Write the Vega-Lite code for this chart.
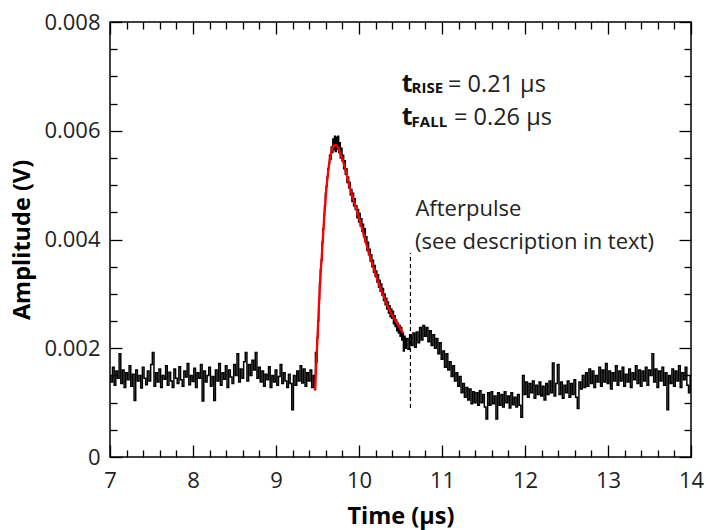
{
  "$schema": "https://vega.github.io/schema/vega-lite/v6.json",
  "width": 581,
  "height": 435,
  "autosize": {"type": "none"},
  "padding": {"left": 110, "top": 22, "right": 15, "bottom": 73},
  "background": "white",
  "config": {
    "view": {"stroke": "black", "strokeWidth": 1.5},
    "font": "Open Sans",
    "axis": {"grid": false, "domain": false, "tickColor": "black", "tickWidth": 1.3, "labelColor": "#222", "labelFont": "Open Sans", "labelFontSize": 22, "titleFont": "Open Sans", "titleFontSize": 23.5, "titleFontWeight": "bold", "titleColor": "black"}
  },
  "datasets": {
    "one": [{}],
    "sig": [
      {"t":7,"v":0.0015},{"t":7.02,"v":0.00138},{"t":7.04,"v":0.00165},{"t":7.06,"v":0.00132},{"t":7.08,"v":0.00158},{"t":7.1,"v":0.00145},{"t":7.12,"v":0.0019},{"t":7.14,"v":0.00135},{"t":7.16,"v":0.0016},{"t":7.18,"v":0.00128},
      {"t":7.2,"v":0.00155},{"t":7.22,"v":0.00142},{"t":7.24,"v":0.00168},{"t":7.26,"v":0.0013},{"t":7.28,"v":0.00152},{"t":7.3,"v":0.00104},{"t":7.32,"v":0.0016},{"t":7.34,"v":0.0014},{"t":7.36,"v":0.0015},{"t":7.38,"v":0.00127},
      {"t":7.4,"v":0.00165},{"t":7.42,"v":0.00145},{"t":7.44,"v":0.00133},{"t":7.46,"v":0.00158},{"t":7.48,"v":0.0014},{"t":7.5,"v":0.0017},{"t":7.52,"v":0.00192},{"t":7.54,"v":0.0013},{"t":7.56,"v":0.00155},{"t":7.58,"v":0.00138},
      {"t":7.6,"v":0.00162},{"t":7.62,"v":0.00128},{"t":7.64,"v":0.0015},{"t":7.66,"v":0.00143},{"t":7.68,"v":0.00168},{"t":7.7,"v":0.00132},{"t":7.72,"v":0.00156},{"t":7.74,"v":0.0014},{"t":7.76,"v":0.00128},{"t":7.78,"v":0.00162},
      {"t":7.8,"v":0.00145},{"t":7.82,"v":0.00135},{"t":7.84,"v":0.00166},{"t":7.86,"v":0.00142},{"t":7.88,"v":0.0013},{"t":7.9,"v":0.00158},{"t":7.92,"v":0.00147},{"t":7.94,"v":0.00172},{"t":7.96,"v":0.00133},{"t":7.98,"v":0.0015},
      {"t":8,"v":0.00139},{"t":8.02,"v":0.00163},{"t":8.04,"v":0.00128},{"t":8.06,"v":0.00155},{"t":8.08,"v":0.00145},{"t":8.1,"v":0.0017},{"t":8.12,"v":0.00103},{"t":8.14,"v":0.00158},{"t":8.16,"v":0.00138},{"t":8.18,"v":0.0015},
      {"t":8.2,"v":0.00165},{"t":8.22,"v":0.0013},{"t":8.24,"v":0.00148},{"t":8.26,"v":0.00104},{"t":8.28,"v":0.0016},{"t":8.3,"v":0.0014},{"t":8.32,"v":0.00172},{"t":8.34,"v":0.00132},{"t":8.36,"v":0.00155},{"t":8.38,"v":0.00143},
      {"t":8.4,"v":0.00168},{"t":8.42,"v":0.00128},{"t":8.44,"v":0.0016},{"t":8.46,"v":0.00147},{"t":8.48,"v":0.00135},{"t":8.5,"v":0.0017},{"t":8.52,"v":0.0015},{"t":8.54,"v":0.0019},{"t":8.56,"v":0.00138},{"t":8.58,"v":0.00162},
      {"t":8.6,"v":0.00145},{"t":8.62,"v":0.00175},{"t":8.64,"v":0.00192},{"t":8.66,"v":0.0014},{"t":8.68,"v":0.0017},{"t":8.7,"v":0.0015},{"t":8.72,"v":0.00178},{"t":8.74,"v":0.0016},{"t":8.76,"v":0.00192},{"t":8.78,"v":0.00145},
      {"t":8.8,"v":0.00165},{"t":8.82,"v":0.00138},{"t":8.84,"v":0.00158},{"t":8.86,"v":0.0013},{"t":8.88,"v":0.00152},{"t":8.9,"v":0.00142},{"t":8.92,"v":0.00166},{"t":8.94,"v":0.00128},{"t":8.96,"v":0.0015},{"t":8.98,"v":0.00138},
      {"t":9,"v":0.0016},{"t":9.02,"v":0.00132},{"t":9.04,"v":0.00148},{"t":9.06,"v":0.0017},{"t":9.08,"v":0.00135},{"t":9.1,"v":0.00155},{"t":9.12,"v":0.0014},{"t":9.14,"v":0.00128},{"t":9.16,"v":0.00152},{"t":9.18,"v":0.00135},
      {"t":9.2,"v":0.00087},{"t":9.22,"v":0.0015},{"t":9.24,"v":0.00132},{"t":9.26,"v":0.00158},{"t":9.28,"v":0.0014},{"t":9.3,"v":0.00168},{"t":9.32,"v":0.00136},{"t":9.34,"v":0.00162},{"t":9.36,"v":0.0013},{"t":9.38,"v":0.00155},
      {"t":9.4,"v":0.0014},{"t":9.42,"v":0.0016},{"t":9.44,"v":0.00128},{"t":9.46,"v":0.0015},
      {"t":9.47,"v":0.00125},{"t":9.48,"v":0.00192},{"t":9.49,"v":0.00175},{"t":9.5,"v":0.0022},{"t":9.51,"v":0.0025},{"t":9.52,"v":0.0029},{"t":9.53,"v":0.0032},{"t":9.54,"v":0.00345},{"t":9.55,"v":0.00362},{"t":9.56,"v":0.00395},
      {"t":9.57,"v":0.0042},{"t":9.58,"v":0.00445},{"t":9.59,"v":0.00462},{"t":9.6,"v":0.00485},{"t":9.61,"v":0.00498},{"t":9.62,"v":0.00515},{"t":9.63,"v":0.0053},{"t":9.64,"v":0.0054},{"t":9.65,"v":0.00555},{"t":9.66,"v":0.00548},
      {"t":9.67,"v":0.0057},{"t":9.68,"v":0.0056},{"t":9.69,"v":0.00585},{"t":9.7,"v":0.00565},{"t":9.71,"v":0.0059},{"t":9.72,"v":0.00562},{"t":9.73,"v":0.00588},{"t":9.74,"v":0.00566},{"t":9.75,"v":0.0059},{"t":9.76,"v":0.0056},
      {"t":9.77,"v":0.00578},{"t":9.78,"v":0.0055},{"t":9.79,"v":0.00568},{"t":9.8,"v":0.00545},{"t":9.81,"v":0.00555},{"t":9.82,"v":0.0053},{"t":9.83,"v":0.00545},{"t":9.84,"v":0.0052},{"t":9.85,"v":0.0053},{"t":9.86,"v":0.00505},
      {"t":9.87,"v":0.00515},{"t":9.88,"v":0.00495},{"t":9.89,"v":0.00505},{"t":9.9,"v":0.00482},{"t":9.91,"v":0.00492},{"t":9.92,"v":0.0047},{"t":9.93,"v":0.00485},{"t":9.94,"v":0.00462},{"t":9.95,"v":0.00475},{"t":9.96,"v":0.00455},
      {"t":9.97,"v":0.00462},{"t":9.98,"v":0.0044},{"t":9.99,"v":0.00455},{"t":10,"v":0.00432},{"t":10.01,"v":0.00448},{"t":10.02,"v":0.00425},{"t":10.03,"v":0.00438},{"t":10.04,"v":0.00415},{"t":10.05,"v":0.00428},{"t":10.06,"v":0.00405},
      {"t":10.07,"v":0.0042},{"t":10.08,"v":0.00395},{"t":10.09,"v":0.00405},{"t":10.1,"v":0.0038},{"t":10.11,"v":0.00395},{"t":10.12,"v":0.00372},{"t":10.13,"v":0.00382},{"t":10.14,"v":0.0036},{"t":10.15,"v":0.00372},{"t":10.16,"v":0.0035},
      {"t":10.17,"v":0.00362},{"t":10.18,"v":0.0034},{"t":10.19,"v":0.00352},{"t":10.2,"v":0.00332},{"t":10.21,"v":0.00342},{"t":10.22,"v":0.00322},{"t":10.23,"v":0.00335},{"t":10.24,"v":0.00312},{"t":10.25,"v":0.00325},{"t":10.26,"v":0.00305},
      {"t":10.27,"v":0.00318},{"t":10.28,"v":0.00298},{"t":10.29,"v":0.0031},{"t":10.3,"v":0.00288},{"t":10.31,"v":0.003},{"t":10.32,"v":0.0028},{"t":10.33,"v":0.00292},{"t":10.34,"v":0.00272},{"t":10.35,"v":0.00285},{"t":10.36,"v":0.00265},
      {"t":10.37,"v":0.00278},{"t":10.38,"v":0.00258},{"t":10.39,"v":0.00272},{"t":10.4,"v":0.00255},{"t":10.41,"v":0.00268},{"t":10.42,"v":0.00245},{"t":10.43,"v":0.0026},{"t":10.44,"v":0.0024},{"t":10.45,"v":0.00252},{"t":10.46,"v":0.00232},
      {"t":10.47,"v":0.00246},{"t":10.48,"v":0.00228},{"t":10.49,"v":0.00242},{"t":10.5,"v":0.00222},{"t":10.51,"v":0.00238},{"t":10.52,"v":0.00215},{"t":10.53,"v":0.00228},{"t":10.54,"v":0.00195},{"t":10.55,"v":0.00222},{"t":10.56,"v":0.002},
      {"t":10.58,"v":0.00218},{"t":10.6,"v":0.00198},{"t":10.62,"v":0.00225},{"t":10.64,"v":0.00205},{"t":10.66,"v":0.00228},{"t":10.68,"v":0.00202},{"t":10.7,"v":0.0023},{"t":10.72,"v":0.0021},{"t":10.74,"v":0.00238},{"t":10.76,"v":0.00215},
      {"t":10.78,"v":0.00242},{"t":10.8,"v":0.00222},{"t":10.82,"v":0.00238},{"t":10.84,"v":0.00212},{"t":10.86,"v":0.00232},{"t":10.88,"v":0.00205},{"t":10.9,"v":0.00225},{"t":10.92,"v":0.002},{"t":10.94,"v":0.00218},{"t":10.96,"v":0.0019},
      {"t":10.98,"v":0.0021},{"t":11,"v":0.0018},{"t":11.02,"v":0.00195},{"t":11.04,"v":0.00165},{"t":11.06,"v":0.0019},{"t":11.08,"v":0.0016},{"t":11.1,"v":0.00175},{"t":11.12,"v":0.00148},{"t":11.14,"v":0.00168},{"t":11.16,"v":0.0014},
      {"t":11.18,"v":0.00155},{"t":11.2,"v":0.0013},{"t":11.22,"v":0.00148},{"t":11.24,"v":0.00118},{"t":11.26,"v":0.00135},{"t":11.28,"v":0.0011},{"t":11.3,"v":0.00128},{"t":11.32,"v":0.00105},{"t":11.34,"v":0.00125},{"t":11.36,"v":0.00098},
      {"t":11.38,"v":0.0012},{"t":11.4,"v":0.001},{"t":11.42,"v":0.00118},{"t":11.44,"v":0.00095},{"t":11.46,"v":0.00122},{"t":11.48,"v":0.001},{"t":11.5,"v":0.00115},{"t":11.52,"v":0.00092},{"t":11.54,"v":0.0007},{"t":11.56,"v":0.00118},
      {"t":11.58,"v":0.00095},{"t":11.6,"v":0.0012},{"t":11.62,"v":0.00098},{"t":11.64,"v":0.00112},{"t":11.66,"v":0.0007},{"t":11.68,"v":0.00118},{"t":11.7,"v":0.00095},{"t":11.72,"v":0.00115},{"t":11.74,"v":0.00092},{"t":11.76,"v":0.0012},
      {"t":11.78,"v":0.001},{"t":11.8,"v":0.00112},{"t":11.82,"v":0.0009},{"t":11.84,"v":0.00118},{"t":11.86,"v":0.00096},{"t":11.88,"v":0.0011},{"t":11.9,"v":0.00092},{"t":11.92,"v":0.00115},{"t":11.94,"v":0.00095},{"t":11.96,"v":0.00073},
      {"t":11.98,"v":0.0015},{"t":12,"v":0.00115},{"t":12.02,"v":0.00138},{"t":12.04,"v":0.0011},{"t":12.06,"v":0.00135},{"t":12.08,"v":0.00118},{"t":12.1,"v":0.0014},{"t":12.12,"v":0.00108},{"t":12.14,"v":0.00132},{"t":12.16,"v":0.00115},
      {"t":12.18,"v":0.00138},{"t":12.2,"v":0.00112},{"t":12.22,"v":0.0013},{"t":12.24,"v":0.00105},{"t":12.26,"v":0.00135},{"t":12.28,"v":0.00115},{"t":12.3,"v":0.0014},{"t":12.32,"v":0.00118},{"t":12.34,"v":0.00173},{"t":12.36,"v":0.00112},
      {"t":12.38,"v":0.00135},{"t":12.4,"v":0.0017},{"t":12.42,"v":0.00115},{"t":12.44,"v":0.00138},{"t":12.46,"v":0.00108},{"t":12.48,"v":0.00132},{"t":12.5,"v":0.00118},{"t":12.52,"v":0.0014},{"t":12.54,"v":0.0011},{"t":12.56,"v":0.00135},
      {"t":12.58,"v":0.00115},{"t":12.6,"v":0.00142},{"t":12.62,"v":0.0011},{"t":12.64,"v":0.00089},{"t":12.66,"v":0.00138},{"t":12.68,"v":0.00125},{"t":12.7,"v":0.0015},{"t":12.72,"v":0.00128},{"t":12.74,"v":0.00155},{"t":12.76,"v":0.0013},
      {"t":12.78,"v":0.00162},{"t":12.8,"v":0.00135},{"t":12.82,"v":0.00158},{"t":12.84,"v":0.00128},{"t":12.86,"v":0.0015},{"t":12.88,"v":0.00138},{"t":12.9,"v":0.00165},{"t":12.92,"v":0.0013},{"t":12.94,"v":0.0016},{"t":12.96,"v":0.00138},
      {"t":12.98,"v":0.00172},{"t":13,"v":0.00135},{"t":13.02,"v":0.00158},{"t":13.04,"v":0.00125},{"t":13.06,"v":0.00155},{"t":13.08,"v":0.0014},{"t":13.1,"v":0.00168},{"t":13.12,"v":0.00132},{"t":13.14,"v":0.00158},{"t":13.16,"v":0.0014},
      {"t":13.18,"v":0.00165},{"t":13.2,"v":0.0013},{"t":13.22,"v":0.00152},{"t":13.24,"v":0.00138},{"t":13.26,"v":0.00162},{"t":13.28,"v":0.00128},{"t":13.3,"v":0.00155},{"t":13.32,"v":0.00142},{"t":13.34,"v":0.00168},{"t":13.36,"v":0.00135},
      {"t":13.38,"v":0.0016},{"t":13.4,"v":0.0013},{"t":13.42,"v":0.00158},{"t":13.44,"v":0.0014},{"t":13.46,"v":0.00165},{"t":13.48,"v":0.00132},{"t":13.5,"v":0.0016},{"t":13.52,"v":0.0015},{"t":13.54,"v":0.0019},{"t":13.56,"v":0.00138},
      {"t":13.58,"v":0.00162},{"t":13.6,"v":0.00128},{"t":13.62,"v":0.00158},{"t":13.64,"v":0.0014},{"t":13.66,"v":0.00165},{"t":13.68,"v":0.00132},{"t":13.7,"v":0.00155},{"t":13.72,"v":0.00087},{"t":13.74,"v":0.0015},{"t":13.76,"v":0.00135},
      {"t":13.78,"v":0.00162},{"t":13.8,"v":0.0013},{"t":13.82,"v":0.00158},{"t":13.84,"v":0.0014},{"t":13.86,"v":0.00168},{"t":13.88,"v":0.00128},{"t":13.9,"v":0.00155},{"t":13.92,"v":0.00142},{"t":13.94,"v":0.00165},{"t":13.96,"v":0.00132},
      {"t":13.98,"v":0.00118},{"t":14,"v":0.0015}
    ],
    "fit": [
      {"t":9.47,"v":0.00122},{"t":9.5,"v":0.0022},{"t":9.53,"v":0.0032},{"t":9.55,"v":0.00365},{"t":9.58,"v":0.0044},{"t":9.6,"v":0.0048},{"t":9.63,"v":0.00527},{"t":9.66,"v":0.00557},{"t":9.69,"v":0.00571},{"t":9.72,"v":0.00574},
      {"t":9.75,"v":0.00568},{"t":9.78,"v":0.00556},{"t":9.81,"v":0.00543},{"t":9.85,"v":0.0052},{"t":9.9,"v":0.0049},{"t":9.95,"v":0.00465},{"t":10,"v":0.0044},{"t":10.05,"v":0.00413},{"t":10.1,"v":0.00385},{"t":10.15,"v":0.0036},
      {"t":10.2,"v":0.00336},{"t":10.25,"v":0.00314},{"t":10.3,"v":0.00294},{"t":10.35,"v":0.00276},{"t":10.4,"v":0.00261},{"t":10.45,"v":0.00248},{"t":10.5,"v":0.00235},{"t":10.53,"v":0.00228}
    ]
  },
  "resolve": {"axis": {"x": "independent", "y": "independent"}},
  "layer": [
    {
      "data": {"name": "sig"},
      "mark": {"type": "line", "color": "black", "strokeWidth": 1.5, "interpolate": "step"},
      "encoding": {
        "x": {"field": "t", "type": "quantitative", "scale": {"domain": [7, 14], "nice": false, "zero": false},
          "axis": {"orient": "bottom", "values": [7, 8, 9, 10, 11, 12, 13, 14], "format": "d", "tickSize": -12, "labelPadding": 25, "labelFlush": false, "title": "Time (µs)", "titlePadding": 13}},
        "y": {"field": "v", "type": "quantitative", "scale": {"domain": [0, 0.008], "nice": false},
          "axis": {"orient": "left", "values": [0, 0.002, 0.004, 0.006, 0.008], "labelExpr": "datum.value === 0 ? '0' : format(datum.value, '.3f')", "tickSize": -12, "labelPadding": 22, "labelFlush": false, "title": "Amplitude (V)", "titlePadding": 9}}
      }
    },
    {
      "data": {"name": "fit"},
      "mark": {"type": "line", "color": "#ff0000", "strokeWidth": 2.3, "interpolate": "monotone"},
      "encoding": {
        "x": {"field": "t", "type": "quantitative", "scale": {"domain": [7, 14], "nice": false, "zero": false},
          "axis": {"orient": "bottom", "values": [7.2, 7.4, 7.6, 7.8, 8.2, 8.4, 8.6, 8.8, 9.2, 9.4, 9.6, 9.8, 10.2, 10.4, 10.6, 10.8, 11.2, 11.4, 11.6, 11.8, 12.2, 12.4, 12.6, 12.8, 13.2, 13.4, 13.6, 13.8], "tickSize": -7, "labels": false, "title": null}},
        "y": {"field": "v", "type": "quantitative", "scale": {"domain": [0, 0.008], "nice": false},
          "axis": {"orient": "left", "values": [0.0005, 0.001, 0.0015, 0.0025, 0.003, 0.0035, 0.0045, 0.005, 0.0055, 0.0065, 0.007, 0.0075], "tickSize": -7, "labels": false, "title": null}}
      }
    },
    {
      "data": {"name": "one"},
      "mark": {"type": "rule", "color": "black", "strokeWidth": 1.2, "strokeDash": [4, 3]},
      "encoding": {
        "x": {"datum": 10.62, "type": "quantitative",
          "axis": {"orient": "top", "values": [7, 8, 9, 10, 11, 12, 13, 14], "tickSize": -12, "labels": false, "title": null}},
        "y": {"datum": 0.0009, "type": "quantitative",
          "axis": {"orient": "right", "values": [0, 0.002, 0.004, 0.006, 0.008], "tickSize": -12, "labels": false, "title": null}},
        "y2": {"datum": 0.00375}
      }
    },
    {
      "data": {"name": "one"},
      "mark": {"type": "text", "align": "left", "baseline": "alphabetic", "fontSize": 22, "color": "#222"},
      "encoding": {
        "x": {"datum": 10.68, "type": "quantitative",
          "axis": {"orient": "top", "values": [7.2, 7.4, 7.6, 7.8, 8.2, 8.4, 8.6, 8.8, 9.2, 9.4, 9.6, 9.8, 10.2, 10.4, 10.6, 10.8, 11.2, 11.4, 11.6, 11.8, 12.2, 12.4, 12.6, 12.8, 13.2, 13.4, 13.6, 13.8], "tickSize": -7, "labels": false, "title": null}},
        "y": {"datum": 0.00443, "type": "quantitative",
          "axis": {"orient": "right", "values": [0.0005, 0.001, 0.0015, 0.0025, 0.003, 0.0035, 0.0045, 0.005, 0.0055, 0.0065, 0.007, 0.0075], "tickSize": -7, "labels": false, "title": null}},
        "text": {"value": "Afterpulse"}
      }
    },
    {
      "data": {"name": "one"},
      "mark": {"type": "text", "align": "left", "baseline": "alphabetic", "fontSize": 22, "color": "#222"},
      "encoding": {
        "x": {"datum": 10.675, "type": "quantitative", "axis": null},
        "y": {"datum": 0.00382, "type": "quantitative", "axis": null},
        "text": {"value": "(see description in text)"}
      }
    },
    {
      "data": {"name": "one"},
      "mark": {"type": "text", "align": "left", "baseline": "alphabetic", "fontSize": 25, "fontWeight": "bold", "color": "#111"},
      "encoding": {
        "x": {"datum": 10.514, "type": "quantitative", "axis": null},
        "y": {"datum": 0.006718, "type": "quantitative", "axis": null},
        "text": {"value": "t"}
      }
    },
    {
      "data": {"name": "one"},
      "mark": {"type": "text", "align": "left", "baseline": "alphabetic", "fontSize": 15, "fontWeight": "bold", "color": "#111"},
      "encoding": {
        "x": {"datum": 10.634, "type": "quantitative", "axis": null},
        "y": {"datum": 0.0067, "type": "quantitative", "axis": null},
        "text": {"value": "RISE"}
      }
    },
    {
      "data": {"name": "one"},
      "mark": {"type": "text", "align": "left", "baseline": "alphabetic", "fontSize": 23.5, "color": "#222"},
      "encoding": {
        "x": {"datum": 11.072, "type": "quantitative", "axis": null},
        "y": {"datum": 0.006718, "type": "quantitative", "axis": null},
        "text": {"value": "= 0.21 µs"}
      }
    },
    {
      "data": {"name": "one"},
      "mark": {"type": "text", "align": "left", "baseline": "alphabetic", "fontSize": 25, "fontWeight": "bold", "color": "#111"},
      "encoding": {
        "x": {"datum": 10.514, "type": "quantitative", "axis": null},
        "y": {"datum": 0.006107, "type": "quantitative", "axis": null},
        "text": {"value": "t"}
      }
    },
    {
      "data": {"name": "one"},
      "mark": {"type": "text", "align": "left", "baseline": "alphabetic", "fontSize": 15, "fontWeight": "bold", "color": "#111"},
      "encoding": {
        "x": {"datum": 10.634, "type": "quantitative", "axis": null},
        "y": {"datum": 0.006064, "type": "quantitative", "axis": null},
        "text": {"value": "FALL"}
      }
    },
    {
      "data": {"name": "one"},
      "mark": {"type": "text", "align": "left", "baseline": "alphabetic", "fontSize": 23.5, "color": "#222"},
      "encoding": {
        "x": {"datum": 11.145, "type": "quantitative", "axis": null},
        "y": {"datum": 0.006107, "type": "quantitative", "axis": null},
        "text": {"value": "= 0.26 µs"}
      }
    }
  ]
}
